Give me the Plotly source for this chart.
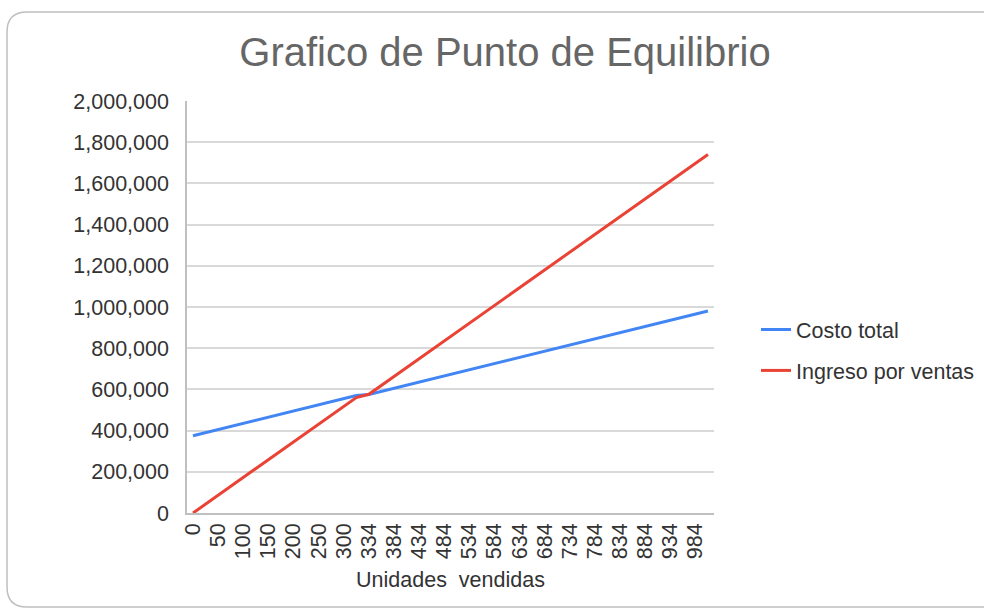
import plotly.graph_objects as go

units = [0, 25, 50, 75, 100, 125, 150, 175, 200, 225, 250, 275, 300, 325, 334, 359, 384,
         409, 434, 459, 484, 509, 534, 559, 584, 609, 634, 659, 684, 709, 734, 759, 784,
         809, 834, 859, 884, 909, 934, 959, 984, 1009]
costo_total = [375000, 390000, 405000, 420000, 435000, 450000, 465000, 480000, 495000,
               510000, 525000, 540000, 555000, 570000, 575400, 590400, 605400, 620400,
               635400, 650400, 665400, 680400, 695400, 710400, 725400, 740400, 755400,
               770400, 785400, 800400, 815400, 830400, 845400, 860400, 875400, 890400,
               905400, 920400, 935400, 950400, 965400, 980400]
ingreso_ventas = [0, 43125, 86250, 129375, 172500, 215625, 258750, 301875, 345000,
                  388125, 431250, 474375, 517500, 560625, 576150, 619275, 662400, 705525,
                  748650, 791775, 834900, 878025, 921150, 964275, 1007400, 1050525,
                  1093650, 1136775, 1179900, 1223025, 1266150, 1309275, 1352400, 1395525,
                  1438650, 1481775, 1524900, 1568025, 1611150, 1654275, 1697400, 1740525]
x_tick_labels = ["0", "50", "100", "150", "200", "250", "300", "334", "384", "434", "484",
                 "534", "584", "634", "684", "734", "784", "834", "884", "934", "984"]
y_ticks = [0, 200000, 400000, 600000, 800000, 1000000, 1200000, 1400000, 1600000,
           1800000, 2000000]

W, H = 984, 613
FONT = "Liberation Sans, Arial, sans-serif"
TXT = "#333333"
FS = 21.5

idx = list(range(len(units)))
tick_idx = [units.index(int(t)) for t in x_tick_labels]

fig = go.Figure()
fig.add_trace(go.Scatter(x=idx, y=costo_total, mode="lines", customdata=units,
                         name="Costo total", legendgroup="a",
                         line=dict(color="#4285f4", width=3)))
fig.add_trace(go.Scatter(x=idx, y=ingreso_ventas, mode="lines", customdata=units,
                         name="Ingreso por ventas", legendgroup="b",
                         line=dict(color="#ea4335", width=3)))


def px(x):
    return x / W


def py(y):
    return 1 - y / H


fig.update_layout(
    width=W, height=H,
    margin=dict(l=0, r=0, t=0, b=0),
    paper_bgcolor="white", plot_bgcolor="white",
    font=dict(family=FONT, size=FS, color=TXT),
    title=dict(text="Grafico de Punto de Equilibrio", x=px(505), xanchor="center",
               y=py(52), yanchor="middle",
               font=dict(family=FONT, size=40, color="#666666")),
    xaxis=dict(
        domain=[px(187), px(714)],
        tickmode="array", tickvals=tick_idx, ticktext=x_tick_labels,
        tickangle=-90, range=[-0.48, len(units) - 1 + 0.48],
        showgrid=False, showline=True, linecolor="#bfbfbf", linewidth=1.5,
        ticks="", automargin=False, zeroline=False,
        tickfont=dict(size=FS, color=TXT),
        title=dict(text="Unidades  vendidas", standoff=14,
                   font=dict(size=FS, color=TXT)),
    ),
    yaxis=dict(
        domain=[py(513), py(101)],
        range=[0, 2000000], tickvals=y_ticks, tickformat=",d",
        showgrid=True, gridcolor="#d9d9d9", gridwidth=1.5,
        showline=True, linecolor="#bfbfbf", linewidth=1.5,
        zeroline=False, ticks="", automargin=False, ticklabelstandoff=12,
        tickfont=dict(size=FS, color=TXT),
    ),
    legend=dict(x=px(756), xanchor="left", y=py(350), yanchor="middle",
                font=dict(size=FS, color=TXT), traceorder="grouped",
                tracegroupgap=10, bgcolor="rgba(0,0,0,0)"),
    shapes=[dict(type="path", xref="paper", yref="paper",
                 path=f"M {px(990)} {py(12)} L {px(27)} {py(12)} Q {px(7)} {py(12)} {px(7)} {py(32)} "
                      f"L {px(7)} {py(587)} Q {px(7)} {py(607)} {px(27)} {py(607)} L {px(990)} {py(607)}",
                 line=dict(color="#bfbfbf", width=1.5))],
)

fig.write_html("out.html", config={"displayModeBar": False},
               post_script="document.body.style.margin='0';document.body.style.overflow='hidden';")
